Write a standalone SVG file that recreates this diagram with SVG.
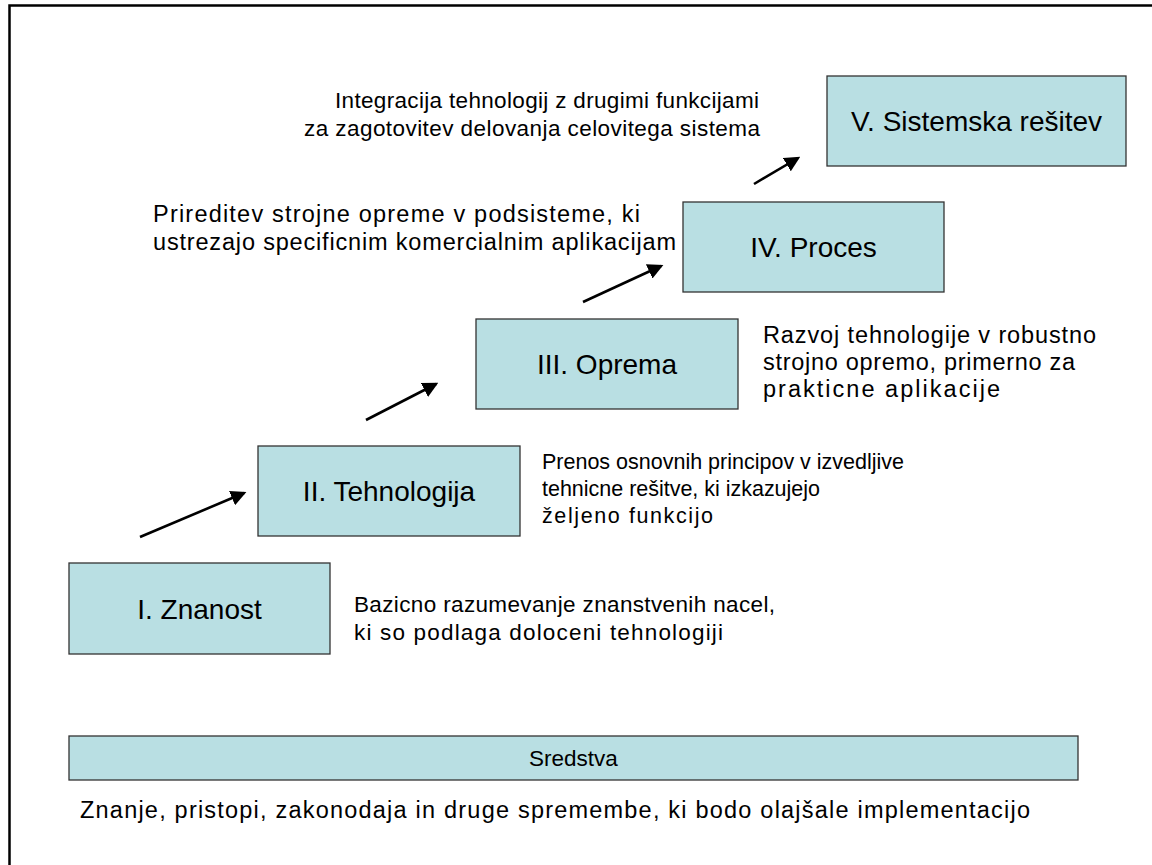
<svg xmlns="http://www.w3.org/2000/svg" width="1152" height="865" viewBox="0 0 1152 865">
<style>
.box{fill:#b9dfe3;stroke:#333;stroke-width:1.3}
.lbl{font-family:"Liberation Sans",Arial,sans-serif;font-size:28px;fill:#000;text-anchor:middle}
.txt{font-family:"Liberation Sans",Arial,sans-serif;font-size:21.5px;fill:#000}
.big{font-size:23.5px}
.mid{font-size:22.5px}
.arr{stroke:#000;stroke-width:2.6;fill:none;marker-end:url(#ah)}
</style>
<defs>
<marker id="ah" markerWidth="6" markerHeight="6" refX="5" refY="3" orient="auto" markerUnits="strokeWidth">
<path d="M0,0 L6,3 L0,6 Z" fill="#000"/>
</marker>
</defs>
<rect x="9.5" y="5.5" width="1160" height="880" fill="#fff" stroke="#000" stroke-width="2.5"/>
<g id="n1"><rect class="box" x="69" y="563" width="261" height="91"/><text class="lbl" x="199.5" y="618.5">I. Znanost</text></g>
<g id="n2"><rect class="box" x="258" y="446" width="262" height="90"/><text class="lbl" x="389" y="501">II. Tehnologija</text></g>
<g id="n3"><rect class="box" x="476" y="319" width="262" height="90"/><text class="lbl" x="607" y="374">III. Oprema</text></g>
<g id="n4"><rect class="box" x="683" y="202" width="261" height="90"/><text class="lbl" x="813.5" y="257">IV. Proces</text></g>
<g id="n5"><rect class="box" x="827" y="76" width="299" height="90"/><text class="lbl" x="976.5" y="131">V. Sistemska rešitev</text></g>
<g id="n6"><rect class="box" x="69" y="736" width="1009" height="44"/><text class="txt" x="573.5" y="766" text-anchor="middle" style="font-size:22.5px">Sredstva</text></g>
<g id="t1" class="txt mid"><text x="354" y="612" textLength="421" lengthAdjust="spacing">Bazicno razumevanje znanstvenih nacel,</text><text x="354" y="640" textLength="369" lengthAdjust="spacing">ki so podlaga doloceni tehnologiji</text></g>
<g id="t2" class="txt"><text x="542" y="469" textLength="362" lengthAdjust="spacing">Prenos osnovnih principov v izvedljive</text><text x="542" y="496" textLength="278" lengthAdjust="spacing">tehnicne rešitve, ki izkazujejo</text><text x="542" y="523" textLength="171" lengthAdjust="spacing">željeno funkcijo</text></g>
<g id="t3" class="txt big"><text x="763" y="343" textLength="333" lengthAdjust="spacing">Razvoj tehnologije v robustno</text><text x="763" y="370" textLength="312" lengthAdjust="spacing">strojno opremo, primerno za</text><text x="763" y="397" textLength="237" lengthAdjust="spacing">prakticne aplikacije</text></g>
<g id="t4" class="txt big"><text x="153" y="222" textLength="487" lengthAdjust="spacing">Prireditev strojne opreme v podsisteme, ki</text><text x="153" y="250" textLength="523" lengthAdjust="spacing">ustrezajo specificnim komercialnim aplikacijam</text></g>
<g id="t5" class="txt mid"><text x="335" y="108" textLength="424" lengthAdjust="spacing">Integracija tehnologij z drugimi funkcijami</text><text x="304" y="136" textLength="456" lengthAdjust="spacing">za zagotovitev delovanja celovitega sistema</text></g>
<g id="t6" class="txt big"><text x="80" y="818" textLength="950" lengthAdjust="spacing">Znanje, pristopi, zakonodaja in druge spremembe, ki bodo olajšale implementacijo</text></g>
<g id="connectors">
<line class="arr" x1="140" y1="537" x2="244" y2="493"/>
<line class="arr" x1="366" y1="420" x2="436" y2="384"/>
<line class="arr" x1="583" y1="302" x2="661" y2="266"/>
<line class="arr" x1="754" y1="184" x2="798" y2="158"/>
</g>
</svg>
